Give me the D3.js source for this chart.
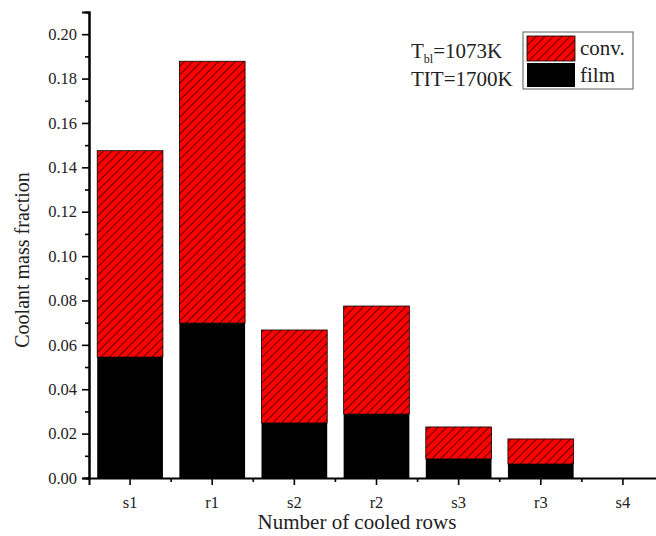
<!DOCTYPE html>
<html>
<head>
<meta charset="utf-8">
<script src="https://cdn.jsdelivr.net/npm/d3@7"></script>
<style>
  body { margin: 0; background: #fff; }
  svg { display: block; font-family: "Liberation Serif", "Times New Roman", serif; }
  svg text { font-family: "Liberation Serif", "Times New Roman", serif; }
</style>
</head>
<body>
<svg id="chart" width="656" height="536"></svg>
<script>
// Data
const rows = ["s1", "r1", "s2", "r2", "s3", "r3", "s4"];
const filmValues = [0.0545, 0.0698, 0.0248, 0.0288, 0.0086, 0.0063, 0];
const convValues = [0.0930, 0.1180, 0.0419, 0.0487, 0.0144, 0.0113, 0];
const yTicks = [0.00, 0.02, 0.04, 0.06, 0.08, 0.10, 0.12, 0.14, 0.16, 0.18, 0.20];

const svg = d3.select("#chart");
const margin = {top: 12, right: -8, bottom: 58, left: 89};
const width = 656, height = 536;
const plotW = width - margin.left - margin.right;
const plotH = height - margin.top - margin.bottom;

// Hatch pattern for the convective part
const defs = svg.append("defs");
const pat = defs.append("pattern")
  .attr("id", "hatch")
  .attr("patternUnits", "userSpaceOnUse")
  .attr("width", 6)
  .attr("height", 6)
  .attr("patternTransform", "rotate(45)");
pat.append("rect").attr("width", 6).attr("height", 6).attr("fill", "#ff0000");
pat.append("line")
  .attr("x1", 0.5).attr("y1", 0).attr("x2", 0.5).attr("y2", 6)
  .attr("stroke", "#5a0000").attr("stroke-width", 1);

const g = svg.append("g").attr("transform", `translate(${margin.left},${margin.top})`);

const x = d3.scaleBand().domain(rows).range([0, plotW]).paddingInner(0.2).paddingOuter(0.1);
const y = d3.scaleLinear().domain([0, 0.21]).range([plotH, 0]);

// Stacked bars
rows.forEach((r, i) => {
  const film = filmValues[i], conv = convValues[i];
  if (film + conv <= 0) return;
  g.append("rect")
    .attr("x", x(r))
    .attr("y", y(film + conv))
    .attr("width", x.bandwidth())
    .attr("height", y(film) - y(film + conv))
    .attr("fill", "url(#hatch)")
    .attr("stroke", "#000")
    .attr("stroke-width", 0.8);
  g.append("rect")
    .attr("x", x(r))
    .attr("y", y(film))
    .attr("width", x.bandwidth())
    .attr("height", y(0) - y(film))
    .attr("fill", "#000");
});

// Y axis
const yAxis = g.append("g")
  .call(d3.axisLeft(y).tickValues(yTicks).tickFormat(d3.format(".2f")).tickSize(7).tickPadding(5));
g.append("g")
  .call(d3.axisLeft(y).tickValues(d3.range(0.01, 0.21, 0.02)).tickFormat("").tickSize(4));
g.selectAll(".domain").attr("stroke-width", 2);
g.selectAll(".tick line").attr("stroke-width", 1.6);
yAxis.selectAll("text").attr("font-size", 16.5).attr("fill", "#222");

// X axis
const xAxis = g.append("g")
  .attr("transform", `translate(0,${plotH})`)
  .call(d3.axisBottom(x).tickSize(7).tickPadding(11));
xAxis.select(".domain").attr("stroke-width", 2);
xAxis.selectAll(".tick line").attr("stroke-width", 1.6);
xAxis.selectAll("text").attr("font-size", 16.5).attr("fill", "#222");
// minor ticks between categories
const step = x.step();
const minorG = g.append("g").attr("transform", `translate(0,${plotH})`);
minorG.selectAll("line")
  .data(rows.slice(0, -1))
  .join("line")
  .attr("x1", d => x(d) + x.bandwidth() / 2 + step / 2)
  .attr("x2", d => x(d) + x.bandwidth() / 2 + step / 2)
  .attr("y1", 0).attr("y2", 4)
  .attr("stroke", "#000").attr("stroke-width", 1.6);

g.selectAll(".tick text").style("font-family", "'Liberation Serif', serif");

// Axis titles
svg.append("text")
  .attr("transform", "translate(29,260) rotate(-90)")
  .attr("text-anchor", "middle")
  .attr("font-size", 20)
  .attr("fill", "#222")
  .text("Coolant mass fraction");
svg.append("text")
  .attr("x", 357).attr("y", 529)
  .attr("text-anchor", "middle")
  .attr("font-size", 21)
  .attr("fill", "#222")
  .text("Number of cooled rows");

// Annotation
const note = svg.append("text").attr("font-size", 21).attr("fill", "#222");
note.append("tspan").attr("x", 411).attr("y", 58).text("T");
note.append("tspan").attr("font-size", 12).attr("dy", 5).text("bl");
note.append("tspan").attr("dy", -5).text("=1073K");
svg.append("text").attr("x", 411).attr("y", 86).attr("font-size", 21).attr("fill", "#222").text("TIT=1700K");

// Legend
const legend = svg.append("g").attr("transform", "translate(523,32)");
legend.append("rect")
  .attr("width", 110).attr("height", 57)
  .attr("fill", "#fff").attr("stroke", "#777").attr("stroke-width", 1.2);
legend.append("rect")
  .attr("x", 4).attr("y", 4).attr("width", 48).attr("height", 25)
  .attr("fill", "url(#hatch)").attr("stroke", "#000").attr("stroke-width", 0.8);
legend.append("rect")
  .attr("x", 4).attr("y", 31).attr("width", 48).attr("height", 24)
  .attr("fill", "#000");
legend.append("text").attr("x", 57).attr("y", 23).attr("font-size", 21).attr("fill", "#222").text("conv.");
legend.append("text").attr("x", 57).attr("y", 50).attr("font-size", 21).attr("fill", "#222").text("film");
</script>
</body>
</html>
